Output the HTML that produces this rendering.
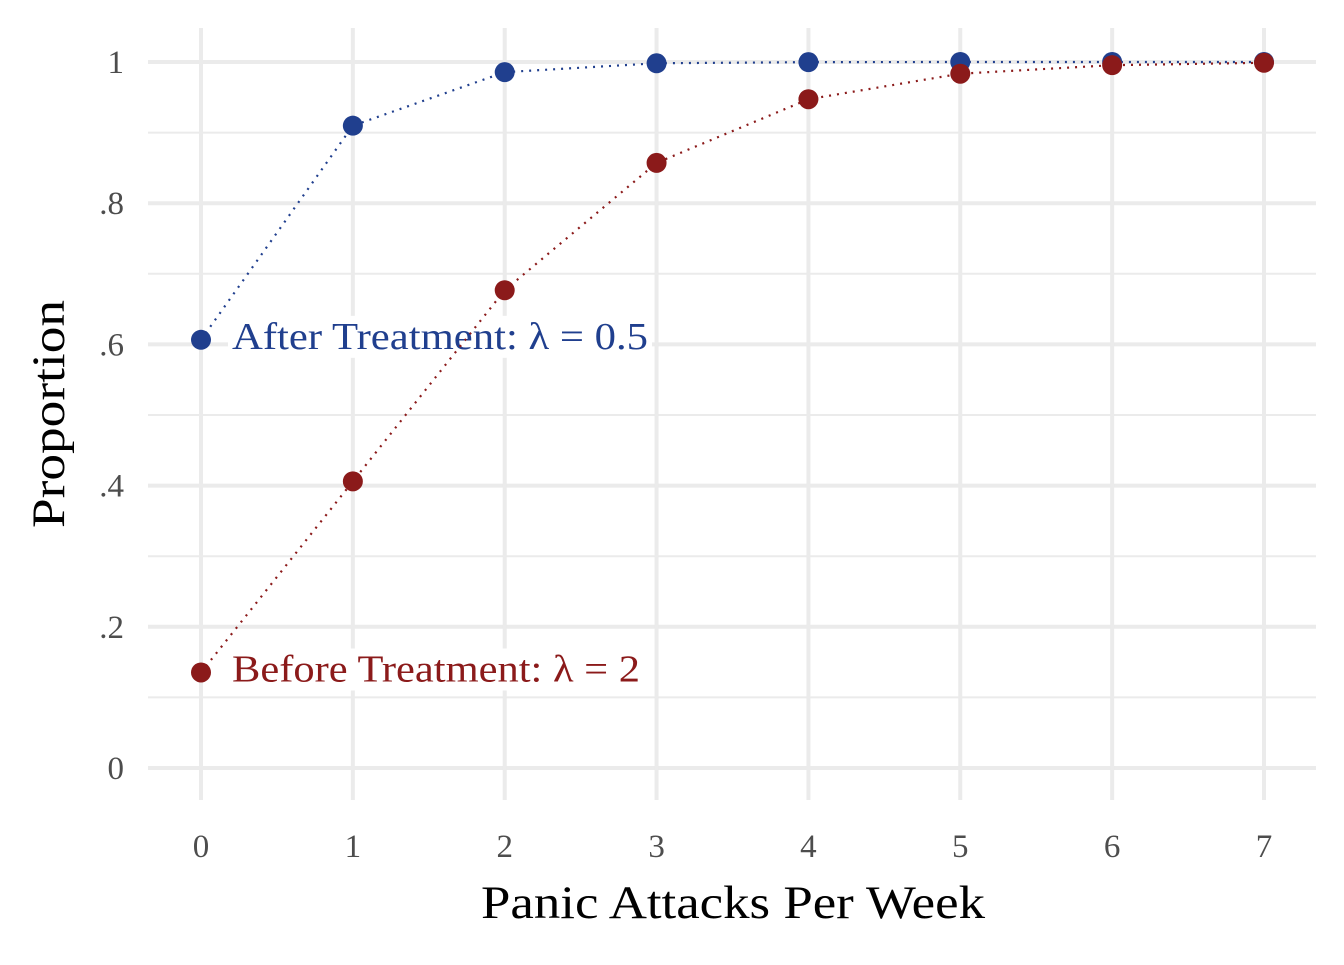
<!DOCTYPE html>
<html><head><meta charset="utf-8"><style>
html,body{margin:0;padding:0;background:#fff;}
svg text{font-family:"Liberation Serif",serif;}
</style></head><body>
<svg id="chart" width="1344" height="960" xmlns="http://www.w3.org/2000/svg">
<g id="grid"></g>
<g id="series"></g>
<g id="axes"></g>
<text x="481" y="918" font-size="47" fill="#000" textLength="504" lengthAdjust="spacingAndGlyphs">Panic Attacks Per Week</text>
<text transform="translate(64,528) rotate(-90)" font-size="47" fill="#000" textLength="228" lengthAdjust="spacingAndGlyphs">Proportion</text>
</svg>
<script>
const categories=[0,1,2,3,4,5,6,7];
const afterValues=[0.6065,0.9098,0.9856,0.9982,0.9998,1.0,1.0,1.0];
const beforeValues=[0.1353,0.4060,0.6767,0.8571,0.9473,0.9834,0.9955,0.9989];
const yTicks=[0,0.2,0.4,0.6,0.8,1];
const yTickLabels=["0",".2",".4",".6",".8","1"];
const yMinor=[0.1,0.3,0.5,0.7,0.9];
const seriesLabels=["After Treatment: λ = 0.5","Before Treatment: λ = 2"];
const NS="http://www.w3.org/2000/svg";
const X=v=>201+v*(1264-201)/7;
const Y=v=>768-v*706;
const L={x0:148,x1:1316,y0:28,y1:800};
function mk(tag,attrs,parent){const e=document.createElementNS(NS,tag);for(const k in attrs)e.setAttribute(k,attrs[k]);parent.appendChild(e);return e;}
const grid=document.getElementById('grid'),series=document.getElementById('series'),axes=document.getElementById('axes');
yMinor.forEach(v=>{const l=mk('line',{x1:L.x0,x2:L.x1,y1:Y(v),y2:Y(v),stroke:'#ebebeb','stroke-width':2},grid);

});
yTicks.forEach((v,i)=>{const l=mk('line',{x1:L.x0,x2:L.x1,y1:Y(v),y2:Y(v),stroke:'#ebebeb','stroke-width':4},grid);


const t=mk('text',{x:124,y:Y(v)+11,'text-anchor':'end','font-size':33,fill:'#4d4d4d'},axes);t.textContent=yTickLabels[i];

});
categories.forEach(c=>{const l=mk('line',{x1:X(c),x2:X(c),y1:L.y0,y2:L.y1,stroke:'#ebebeb','stroke-width':4},grid);


const t=mk('text',{x:X(c),y:857,'text-anchor':'middle','font-size':33,fill:'#4d4d4d'},axes);t.textContent=String(c);

});
function drawSeries(vals,color,name,label,len){
 const pts=categories.map((c,i)=>X(c)+','+Y(vals[i])).join(' ');
 const pl=mk('polyline',{points:pts,fill:'none',stroke:color,'stroke-width':2.2,'stroke-dasharray':'2 6'},series);
 
 
 const ty=Y(vals[0])+9;
 const t=mk('text',{x:232,y:ty,'font-size':38,fill:color,textLength:len,lengthAdjust:'spacingAndGlyphs'},series);t.textContent=label;
 
 
 const bb=t.getBBox();
 const r=document.createElementNS(NS,'rect');
 r.setAttribute('x',bb.x-4);r.setAttribute('y',bb.y);r.setAttribute('width',bb.width+8);r.setAttribute('height',bb.height);r.setAttribute('fill','#fff');
 
 
 series.insertBefore(r,t);
 return ()=>categories.forEach((c,i)=>{const p=mk('circle',{cx:X(c),cy:Y(vals[i]),r:10,fill:color},series);
  
  });
}
const pa=drawSeries(afterValues,'#203f8e','after-treatment',seriesLabels[0],416);
const pb=drawSeries(beforeValues,'#8b1a1a','before-treatment',seriesLabels[1],408);
pa();pb();
</script>
</body></html>
